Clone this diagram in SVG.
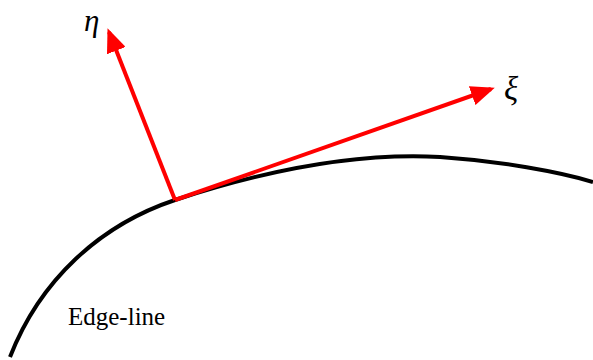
<svg xmlns="http://www.w3.org/2000/svg" width="593" height="360" viewBox="0 0 593 360">
<style>
.axis{stroke:#ff0000;stroke-width:4;fill:none}
.sym{font-family:"Liberation Serif","DejaVu Serif",serif;font-style:italic;fill:#000}
.lbl{font-family:"Liberation Serif","Times New Roman",serif;font-size:25px;fill:#000}
</style>
<defs>
<marker id="ah" markerWidth="6" markerHeight="5" refX="5" refY="2.5" orient="auto" markerUnits="strokeWidth">
<path d="M0,0 L6,2.5 L0,5 Z" fill="#ff0000"/>
</marker>
</defs>
<rect width="593" height="360" fill="#fff"/>
<g id="edge-line">
<path d="M10,357 C40,280 100,225 175,200 C260,172 350,152 440,157 C500,161 560,172 593,182" stroke="#000" stroke-width="4" fill="none"/>
<text class="lbl" x="68" y="325">Edge-line</text>
</g>
<g id="connectors">
<line class="axis" x1="175" y1="200" x2="109" y2="32" marker-end="url(#ah)"/>
<line class="axis" x1="175" y1="200" x2="491" y2="89" marker-end="url(#ah)"/>
</g>
<g id="eta"><text class="sym" x="84" y="31" font-size="31">η</text></g>
<g id="xi"><text class="sym" x="504" y="100" font-size="33">ξ</text></g>
</svg>
